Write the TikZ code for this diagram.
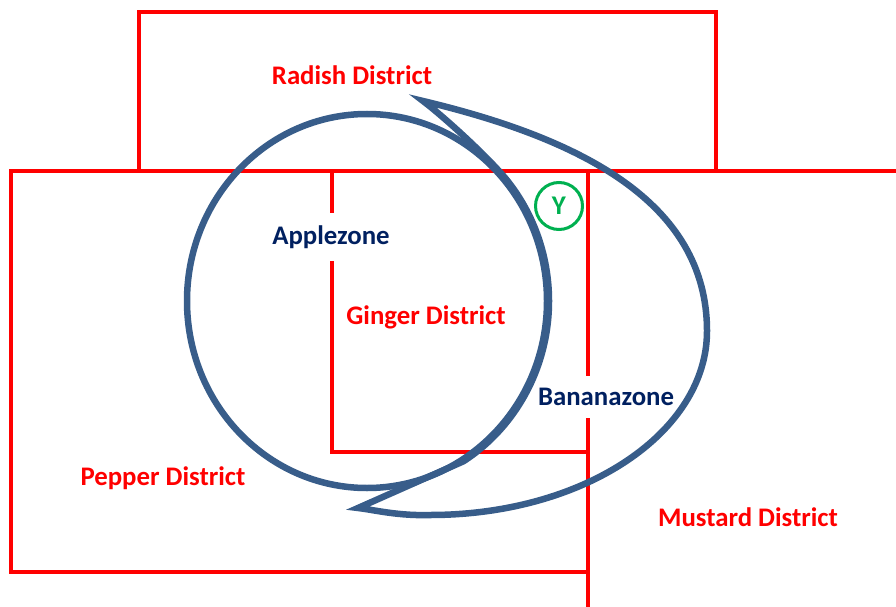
\documentclass[tikz,border=0pt]{standalone}
\usepackage{fontspec}
\setmainfont{Carlito}
\usetikzlibrary{calc}
\definecolor{districtred}{RGB}{255,0,0}
\definecolor{zoneblue}{RGB}{56,93,138}
\definecolor{zonetext}{RGB}{0,32,96}
\definecolor{markgreen}{RGB}{0,176,80}
\begin{document}
\begin{tikzpicture}[x=1pt,y=-1pt,
  border/.style={draw=districtred,line width=4pt,line join=miter},
  zone/.style={draw=zoneblue,line width=6.5pt,line join=miter,miter limit=12},
  district/.style={text=districtred,font=\fontsize{26.8}{32}\selectfont\bfseries,inner sep=0pt},
  zonelabel/.style={text=zonetext,fill=white,font=\fontsize{26.8}{32}\selectfont\bfseries,
    inner xsep=5pt,inner ysep=12pt},
  marker/.style={circle,draw=markgreen,line width=3pt,minimum size=47pt,inner sep=0pt,
    text=markgreen,font=\fontsize{27}{30}\selectfont\bfseries}]
\useasboundingbox (0,0) rectangle (896,607);

% district boundaries
\coordinate (rTL) at (139,12);  \coordinate (rTR) at (716,12);
\coordinate (rBL) at (139,171); \coordinate (rBR) at (716,171);
\coordinate (pTL) at (11,171);  \coordinate (pBL) at (11,572);
\coordinate (pBR) at (588,572); \coordinate (eastEnd) at (898,171);
\coordinate (mTop) at (588,171); \coordinate (mBot) at (588,609);
\coordinate (gTL) at (332,171); \coordinate (gBL) at (332,452);
\coordinate (gBR) at (588,452);

\draw[border] (rBL) -- (rTL) -- (rTR) -- (rBR);
\draw[border] (pBR) -- (pBL) -- (pTL) -- (eastEnd);
\draw[border] (mTop) -- (mBot);
\draw[border] (gTL) -- (gBL) -- (gBR);

% zone labels sit on white boxes that interrupt the boundaries
\node[zonelabel] (apple) at (331,237) {Applezone};
\node[zonelabel] (banana) at (606,397) {Bananazone};

% Applezone
\coordinate (ac) at (367,301);
\draw[zone] (ac) ellipse [x radius=180pt, y radius=187pt];

% Bananazone (crescent hugging the Applezone)
\coordinate (tipN) at (423,101);
\coordinate (east) at (707,331);
\coordinate (south) at (430,515);
\coordinate (tipS) at (358,508);
\coordinate (innerS) at ($(ac)+(-58:182pt and 189pt)$);
\coordinate (innerN) at ($(ac)+(40:182pt and 189pt)$);
\draw[zone] (tipN) .. controls (578,138) and (707,201) .. (east)
  .. controls (707,432) and (585,515) .. (south)
  .. controls (398,516) and (375,510) .. (tipS)
  -- (innerS) arc[start angle=-58, end angle=40, x radius=182pt, y radius=189pt]
  .. controls (487,156) and (443,116) .. (tipN) -- cycle;

% district labels
\node[district] (radish) at (352,75) {Radish District};
\node[district] (ginger) at (426,317) {Ginger District};
\node[district] (pepper) at (163,478) {Pepper District};
\node[district] (mustard) at (748,517) {Mustard District};
\node[marker] (ymark) at (559,206) {Y};
\end{tikzpicture}
\end{document}
